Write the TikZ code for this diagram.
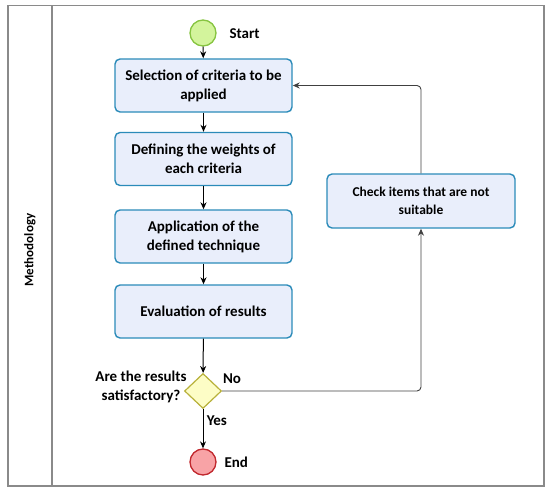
\documentclass[tikz,border=0pt]{standalone}
\usepackage{fontspec}
\setmainfont{Carlito}
\usepackage{xcolor}
\usetikzlibrary{shapes.geometric,arrows.meta}

\definecolor{boxfill}{HTML}{E9EEFB}
\definecolor{boxline}{HTML}{2B8BB9}
\definecolor{startfill}{HTML}{D3F49C}
\definecolor{startline}{HTML}{86C440}
\definecolor{endfill}{HTML}{F8A3A6}
\definecolor{endline}{HTML}{C1272D}
\definecolor{gatefill}{HTML}{FDFDC6}
\definecolor{gateline}{HTML}{B8B13A}
\definecolor{lanegray}{HTML}{8A8A8A}

\begin{document}
\begin{tikzpicture}[x=1pt, y=-1pt,
    task/.style={draw=boxline, fill=boxfill, line width=1.4pt, rounded corners=5pt,
        minimum width=177pt, minimum height=53pt, align=center,
        font=\bfseries\fontsize{15}{19}\selectfont},
    event/.style={circle, minimum size=26pt, inner sep=0pt, line width=1.3pt},
    txt/.style={font=\bfseries\fontsize{15}{19.5}\selectfont},
    flow/.style={-{Stealth[length=7pt,width=6pt]}, line width=1pt},
    back/.style={-{Stealth[length=7pt,width=6pt]}, line width=0.9pt, draw=black!75, rounded corners=4pt}]
    \useasboundingbox (0,0) rectangle (550,493);

    % Pool and lane
    \draw[lanegray, line width=1.4pt] (8,5.5) rectangle (544,486);
    \draw[lanegray, line width=1.4pt] (52,5.5) -- (52,486);
    \node[font=\bfseries\fontsize{13}{16}\selectfont, rotate=90] (lane) at (30,250) {Methodology};

    % Events
    \node[event, draw=startline, fill=startfill] (start) at (203,33) {};
    \node[txt, anchor=west] (startlbl) at (226,34) {Start};
    \node[event, draw=endline, fill=endfill] (finish) at (203,462) {};
    \node[txt, anchor=west] (endlbl) at (221,462) {End};

    % Tasks
    \node[task] (select) at (203.5,85.5) {Selection of criteria to be\\applied};
    \node[task] (weights) at (203.5,159) {Defining the weights of\\each criteria};
    \node[task] (apply) at (203.5,236.5) {Application of the\\defined technique};
    \node[task] (evaluate) at (203.5,311.5) {Evaluation of results};
    \node[task, minimum width=188pt, minimum height=54pt,
        font=\bfseries\fontsize{13.5}{18}\selectfont] (check) at (421,201) {Check items that are not\\suitable};

    % Gateway
    \node[diamond, draw=gateline, fill=gatefill, line width=1.2pt, inner sep=0pt,
        minimum width=37pt, minimum height=35pt] (decide) at (203,391) {};
    \node[txt, align=center] (question) at (141,387) {Are the results\\satisfactory?};

    % Sequence flows
    \draw[flow] (start) -- (select);
    \draw[flow] (select) -- (weights);
    \draw[flow] (weights) -- (apply);
    \draw[flow] (apply) -- (evaluate);
    \draw[flow] (evaluate) -- (decide);
    \draw[flow] (decide) -- node[txt, right, pos=0.3] (yes) {Yes} (finish);
    \draw[back] (decide.east) -| (check.south);
    \draw[back] (check.north) |- (select.east);
    \node[txt] (no) at (232,379) {No};
\end{tikzpicture}
\end{document}
